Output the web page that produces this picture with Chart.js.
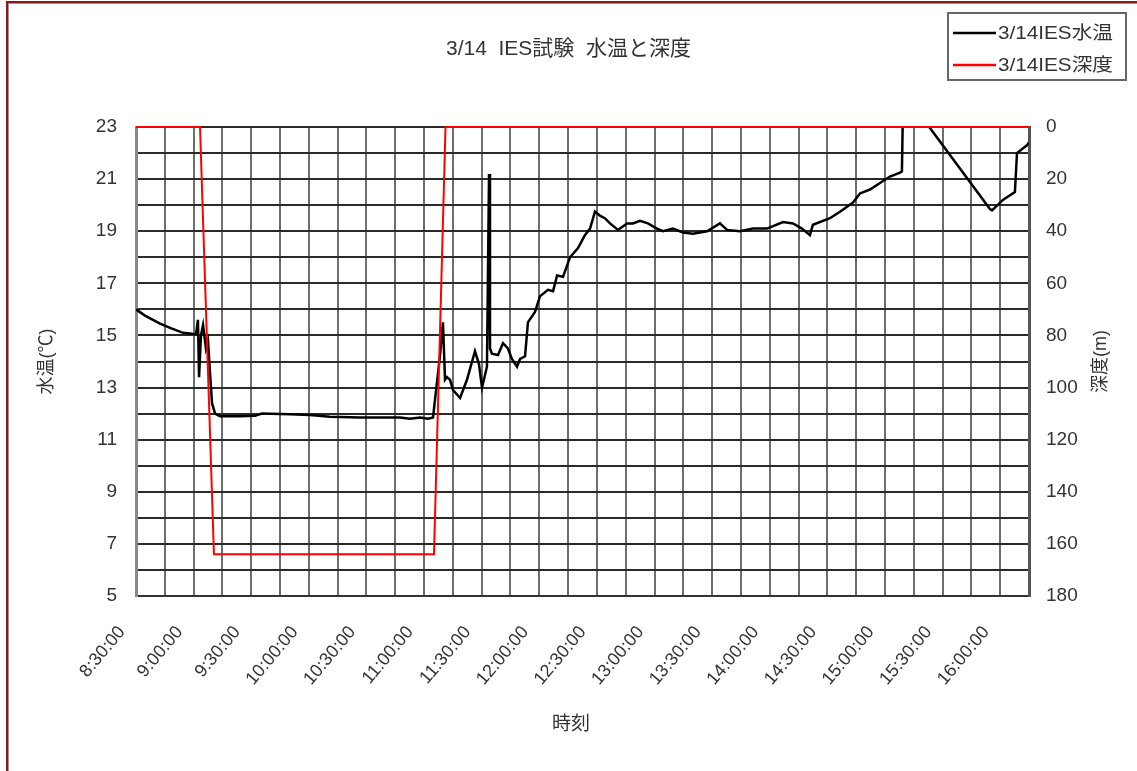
<!DOCTYPE html>
<html lang="ja">
<head>
<meta charset="utf-8">
<title>3/14 IES試験 水温と深度</title>
<script src="https://cdn.jsdelivr.net/npm/chart.js@4.4.1/dist/chart.umd.min.js"></script>
<style>
  html, body { margin: 0; padding: 0; background: #fff; }
  canvas { display: block; }
</style>
</head>
<body>
<canvas id="chart" width="1137" height="771"></canvas>
<script>
// ---- data -------------------------------------------------------------
const chartTitle = '3/14  IES試験  水温と深度';
const tempLabel = '3/14IES水温';
const depthLabel = '3/14IES深度';
const xTitle = '時刻';
const yTitle = '水温(℃)';
const y2Title = '深度(m)';

// water temperature log (time of day, °C)
const tempTimes = [
  '8:30:00','8:34:40','8:42:30','8:48:45','8:54:30','9:01:15','9:02:15','9:02:50',
  '9:03:50','9:04:55','9:06:25','9:07:30','9:08:30','9:09:35','9:11:10','9:13:45',
  '9:24:10','9:32:00','9:35:35','9:50:10','10:00:35','10:11:00','10:26:40','10:47:30',
  '10:52:40','10:57:55','11:02:05','11:04:40','11:06:15','11:08:15','11:09:50','11:10:55',
  '11:11:55','11:13:30','11:15:05','11:18:45','11:22:20','11:26:30','11:28:35','11:30:10',
  '11:32:45','11:33:50','11:34:20','11:35:20','11:38:30','11:41:05','11:43:40','11:45:45',
  '11:48:25','11:50:00','11:52:35','11:54:05','11:57:45','12:00:20','12:04:30','12:07:10',
  '12:09:15','12:12:20','12:16:00','12:20:10','12:23:45','12:26:25','12:29:00','12:31:35',
  '12:34:10','12:36:50','12:41:00','12:45:40','12:48:45','12:52:25','12:56:35','13:01:15',
  '13:04:25','13:09:35','13:14:50','13:20:00','13:27:20','13:34:05','13:37:45','13:44:30',
  '13:51:15','13:58:35','14:06:55','14:12:05','14:16:45','14:20:55','14:22:30','14:31:20',
  '14:36:35','14:43:20','14:47:00','14:52:10','14:57:25','15:02:35','15:07:50','15:08:50',
  '15:09:25','15:12:00','15:54:40','15:55:45','16:01:25','16:07:40','16:08:45','16:13:55',
  '16:15:00'
];
const tempValues = [
  16.0, 15.76, 15.45, 15.26, 15.1, 15.05, 15.6, 13.4,
  15.0, 15.4, 14.5, 14.8, 13.6, 12.4, 12.0, 11.9,
  11.9, 11.92, 12.0, 11.98, 11.95, 11.88, 11.85, 11.85,
  11.8, 11.85, 11.8, 11.85, 12.9, 14.2, 15.5, 13.3,
  13.4, 13.3, 12.9, 12.6, 13.3, 14.4, 13.9, 13.0,
  13.8, 21.2, 14.5, 14.3, 14.25, 14.7, 14.5, 14.1,
  13.8, 14.1, 14.2, 15.5, 15.9, 16.5, 16.75, 16.7,
  17.3, 17.25, 18.0, 18.35, 18.85, 19.1, 19.75, 19.6,
  19.5, 19.3, 19.05, 19.3, 19.3, 19.4, 19.3, 19.1,
  19.0, 19.1, 18.95, 18.9, 19.0, 19.3, 19.05, 19.0,
  19.1, 19.1, 19.35, 19.3, 19.1, 18.85, 19.25, 19.5,
  19.75, 20.1, 20.45, 20.6, 20.85, 21.1, 21.25, 21.3,
  24.0, 24.1, 19.85, 19.8, 20.2, 20.5, 22.0, 22.3,
  22.4
];

// depth log (time of day, m)
const depthTimes  = ['8:30:00', '9:03:20', '9:10:35', '11:05:10', '11:11:10', '16:15:00'];
const depthValues = [0, 0, 164, 164, 0, 0];

// axis ranges and labels
const timeStart = '8:30:00';
const timeEnd = '16:15:00';
const timeTickLabels = [
  '8:30:00','9:00:00','9:30:00','10:00:00','10:30:00','11:00:00','11:30:00','12:00:00',
  '12:30:00','13:00:00','13:30:00','14:00:00','14:30:00','15:00:00','15:30:00','16:00:00'
];
const tempRange = [5, 23];
const depthRange = [0, 180];

// ---- helpers ----------------------------------------------------------
function toMinutes(s) {
  const p = s.split(':').map(Number);
  return p[0] * 60 + p[1] + (p[2] || 0) / 60;
}
function zip(times, values) {
  return times.map((t, i) => ({ x: toMinutes(t), y: values[i] }));
}
const labelAt = {};
timeTickLabels.forEach(l => { labelAt[Math.round(toMinutes(l))] = l; });

const FONT = "'Liberation Sans', 'Noto Sans CJK JP', sans-serif";
const TEXT = '#333';

// background, outer frame, legend box and the x / right-hand axis titles
const decorations = {
  id: 'decorations',
  beforeDraw(chart) {
    const c = chart.ctx;
    c.save();
    c.fillStyle = '#fff';
    c.fillRect(0, 0, chart.width, chart.height);
    c.restore();
  },
  afterDraw(chart) {
    const c = chart.ctx;
    c.save();
    // frame (top and left edges)
    c.fillStyle = '#8a1a1a';
    c.fillRect(6, 1, chart.width - 6, 2);
    c.fillRect(6, 1, 2, chart.height);
    c.fillStyle = '#999';
    c.fillRect(8, 3, chart.width - 8, 1);
    c.fillRect(8, 3, 1, chart.height);

    // legend
    const box = { x: 948, y: 13, w: 178, h: 67 };
    c.strokeStyle = '#666';
    c.lineWidth = 2;
    c.strokeRect(box.x, box.y, box.w, box.h);
    c.textBaseline = 'middle';
    c.textAlign = 'left';
    chart.data.datasets.forEach((ds, i) => {
      const y = [33, 65][i];
      c.strokeStyle = ds.borderColor;
      c.lineWidth = 2.5;
      c.beginPath();
      c.moveTo(953, y);
      c.lineTo(996, y);
      c.stroke();
      c.save();
      c.translate(998, y + 1);
      c.scale(1.15, 1);
      c.fillStyle = TEXT;
      c.font = '18px ' + FONT;
      c.fillText(ds.label, 0, 0);
      c.restore();
    });

    // x axis title
    c.fillStyle = TEXT;
    c.textAlign = 'center';
    c.font = '19px ' + FONT;
    c.fillText(xTitle, 571, 725);

    // right axis title, reading bottom to top
    const area = chart.chartArea;
    c.translate(1101, (area.top + area.bottom) / 2);
    c.rotate(-Math.PI / 2);
    c.font = '18px ' + FONT;
    c.fillText(y2Title, 0, 0);
    c.restore();
  }
};

new Chart(document.getElementById('chart'), {
  type: 'line',
  data: {
    datasets: [
      {
        label: tempLabel,
        data: zip(tempTimes, tempValues),
        yAxisID: 'y',
        borderColor: '#000',
        borderWidth: 2.5,
        pointRadius: 0,
        tension: 0,
        order: 2
      },
      {
        label: depthLabel,
        data: zip(depthTimes, depthValues),
        yAxisID: 'y2',
        borderColor: '#ff0000',
        borderWidth: 2,
        pointRadius: 0,
        tension: 0,
        clip: { left: 0, right: 0, top: 3, bottom: 0 },
        order: 1
      }
    ]
  },
  options: {
    responsive: false,
    animation: false,
    events: [],
    layout: { padding: 0 },
    plugins: {
      legend: { display: false },
      tooltip: { enabled: false },
      title: {
        display: true,
        text: chartTitle,
        color: TEXT,
        font: { family: FONT, size: 21, weight: 'normal', lineHeight: 1.2 },
        padding: { top: 37, bottom: 64.8 }
      }
    },
    scales: {
      x: {
        type: 'linear',
        position: 'bottom',
        min: toMinutes(timeStart),
        max: toMinutes(timeEnd),
        afterFit(s) { s.height = 175; },
        afterBuildTicks(s) {
          const t = [];
          for (let v = s.min; v <= s.max + 1e-6; v += 15) t.push({ value: v });
          s.ticks = t;
        },
        ticks: {
          autoSkip: false,
          minRotation: 50,
          maxRotation: 50,
          padding: 26,
          labelOffset: -14,
          color: TEXT,
          font: { family: FONT, size: 18 },
          callback: v => labelAt[Math.round(v)] || ''
        },
        grid: { color: '#6e6e6e', lineWidth: 2, drawTicks: false },
        border: { display: true, color: '#333', width: 2 },
        title: { display: false }
      },
      y: {
        position: 'left',
        min: tempRange[0],
        max: tempRange[1],
        afterFit(s) { s.width = 136; },
        ticks: {
          stepSize: 1,
          autoSkip: false,
          padding: 19,
          color: TEXT,
          font: { family: FONT, size: 19 },
          callback: v => ((v - tempRange[0]) % 2 === 0 ? String(v) : '')
        },
        grid: { color: '#2a2a2a', lineWidth: 2, drawTicks: false },
        border: { display: true, color: '#888', width: 3 },
        title: {
          display: true,
          text: yTitle,
          color: TEXT,
          font: { family: FONT, size: 18 },
          padding: { top: 36, bottom: 0 }
        }
      },
      y2: {
        position: 'right',
        reverse: true,
        min: depthRange[0],
        max: depthRange[1],
        afterFit(s) { s.width = 108; },
        ticks: {
          stepSize: 20,
          padding: 17,
          color: TEXT,
          font: { family: FONT, size: 19 }
        },
        grid: { display: false, drawTicks: false },
        border: { display: true, color: '#555', width: 3 }
      }
    }
  },
  plugins: [decorations]
});
</script>
</body>
</html>
